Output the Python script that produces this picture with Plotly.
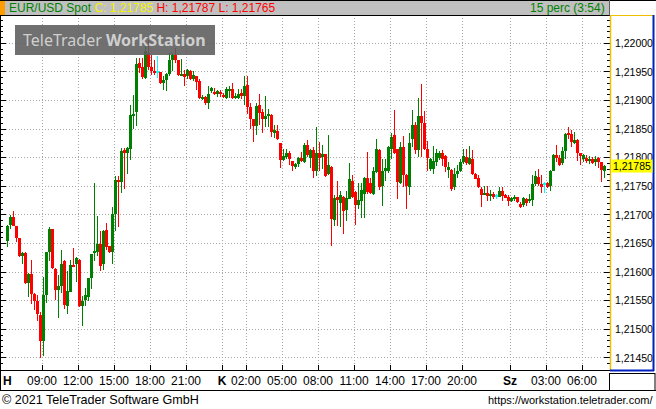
import plotly.graph_objects as go

# ---------------- data (EUR/USD Spot, 15 minute candles, Monday 06:00 onwards) ----------------
opens = [
    1.21654, 1.21682, 1.21696, 1.21680, 1.21659, 1.21628, 1.21634, 1.21581, 1.21596, 1.21562,
    1.21549, 1.21525, 1.21479, 1.21560, 1.21635, 1.21675, 1.21606, 1.21568, 1.21576, 1.21620,
    1.21540, 1.21566, 1.21612, 1.21614, 1.21622, 1.21541, 1.21552, 1.21557, 1.21589, 1.21634,
    1.21636, 1.21649, 1.21614, 1.21673, 1.21645, 1.21635, 1.21701, 1.21761, 1.21758, 1.21813,
    1.21808, 1.21815, 1.21874, 1.21880, 1.21965, 1.21958, 1.21940, 1.21983, 1.21958, 1.21952,
    1.21949, 1.21949, 1.21930, 1.21936, 1.21946, 1.21971, 1.21980, 1.21970, 1.21944, 1.21946,
    1.21942, 1.21952, 1.21937, 1.21942, 1.21934, 1.21903, 1.21906, 1.21896, 1.21916, 1.21915,
    1.21911, 1.21915, 1.21910, 1.21905, 1.21917, 1.21920, 1.21906, 1.21905, 1.21913, 1.21908,
    1.21927, 1.21889, 1.21867, 1.21856, 1.21893, 1.21880, 1.21867, 1.21873, 1.21874, 1.21844,
    1.21847, 1.21825, 1.21796, 1.21802, 1.21808, 1.21794, 1.21784, 1.21789, 1.21800, 1.21793,
    1.21823, 1.21800, 1.21814, 1.21777, 1.21809, 1.21802, 1.21806, 1.21771, 1.21784, 1.21691,
    1.21731, 1.21720, 1.21731, 1.21709, 1.21728, 1.21760, 1.21740, 1.21717, 1.21724, 1.21736,
    1.21765, 1.21756, 1.21737, 1.21775, 1.21814, 1.21750, 1.21776, 1.21777, 1.21815, 1.21839,
    1.21815, 1.21755, 1.21818, 1.21770, 1.21749, 1.21832, 1.21858, 1.21814, 1.21873, 1.21861,
    1.21815, 1.21780, 1.21780, 1.21793, 1.21799, 1.21808, 1.21803, 1.21779, 1.21779, 1.21749,
    1.21772, 1.21777, 1.21793, 1.21802, 1.21789, 1.21798, 1.21772, 1.21765, 1.21746, 1.21735,
    1.21738, 1.21734, 1.21737, 1.21733, 1.21732, 1.21742, 1.21734, 1.21732, 1.21725, 1.21729,
    1.21731, 1.21719, 1.21718, 1.21728, 1.21725, 1.21726, 1.21754, 1.21766, 1.21754, 1.21753,
    1.21756, 1.21751, 1.21777, 1.21805, 1.21800, 1.21791, 1.21811, 1.21843, 1.21842, 1.21826,
    1.21831, 1.21808, 1.21798, 1.21800, 1.21794, 1.21797, 1.21793, 1.21799, 1.21792, 1.21776,
]
highs = [
    1.21682, 1.21700, 1.21706, 1.21681, 1.21660, 1.21635, 1.21636, 1.21598, 1.21622, 1.21563,
    1.21560, 1.21530, 1.21591, 1.21636, 1.21678, 1.21676, 1.21607, 1.21595, 1.21639, 1.21621,
    1.21602, 1.21621, 1.21642, 1.21627, 1.21623, 1.21559, 1.21572, 1.21590, 1.21632, 1.21756,
    1.21698, 1.21672, 1.21673, 1.21686, 1.21646, 1.21713, 1.21768, 1.21768, 1.21817, 1.21817,
    1.21818, 1.21893, 1.21910, 1.21974, 1.21974, 1.21974, 1.22003, 1.22006, 1.21980, 1.21971,
    1.21977, 1.21950, 1.21942, 1.21948, 1.21983, 1.21983, 1.21992, 1.21971, 1.21973, 1.21954,
    1.21955, 1.21954, 1.21951, 1.21943, 1.21937, 1.21910, 1.21908, 1.21925, 1.21924, 1.21921,
    1.21918, 1.21919, 1.21913, 1.21923, 1.21926, 1.21930, 1.21913, 1.21920, 1.21920, 1.21943,
    1.21942, 1.21896, 1.21868, 1.21896, 1.21911, 1.21885, 1.21908, 1.21885, 1.21876, 1.21858,
    1.21857, 1.21826, 1.21815, 1.21815, 1.21812, 1.21795, 1.21791, 1.21802, 1.21810, 1.21825,
    1.21831, 1.21816, 1.21818, 1.21853, 1.21828, 1.21822, 1.21807, 1.21840, 1.21785, 1.21734,
    1.21759, 1.21742, 1.21733, 1.21742, 1.21790, 1.21769, 1.21741, 1.21756, 1.21755, 1.21767,
    1.21810, 1.21765, 1.21783, 1.21832, 1.21815, 1.21798, 1.21798, 1.21821, 1.21844, 1.21883,
    1.21816, 1.21827, 1.21838, 1.21771, 1.21844, 1.21884, 1.21862, 1.21905, 1.21928, 1.21882,
    1.21829, 1.21800, 1.21821, 1.21815, 1.21812, 1.21814, 1.21804, 1.21793, 1.21780, 1.21782,
    1.21787, 1.21798, 1.21815, 1.21815, 1.21821, 1.21813, 1.21773, 1.21769, 1.21749, 1.21751,
    1.21750, 1.21743, 1.21740, 1.21737, 1.21749, 1.21749, 1.21737, 1.21734, 1.21732, 1.21734,
    1.21732, 1.21722, 1.21732, 1.21730, 1.21736, 1.21769, 1.21777, 1.21780, 1.21770, 1.21757,
    1.21758, 1.21779, 1.21807, 1.21823, 1.21804, 1.21818, 1.21843, 1.21854, 1.21848, 1.21845,
    1.21832, 1.21809, 1.21807, 1.21804, 1.21803, 1.21801, 1.21803, 1.21801, 1.21793, 1.21787,
]
lows = [
    1.21644, 1.21676, 1.21680, 1.21653, 1.21627, 1.21615, 1.21580, 1.21557, 1.21545, 1.21534,
    1.21515, 1.21450, 1.21454, 1.21546, 1.21620, 1.21605, 1.21552, 1.21520, 1.21564, 1.21536,
    1.21527, 1.21566, 1.21609, 1.21583, 1.21539, 1.21505, 1.21540, 1.21549, 1.21570, 1.21620,
    1.21629, 1.21602, 1.21604, 1.21638, 1.21634, 1.21615, 1.21672, 1.21679, 1.21739, 1.21745,
    1.21771, 1.21796, 1.21851, 1.21856, 1.21948, 1.21938, 1.21938, 1.21954, 1.21944, 1.21944,
    1.21940, 1.21929, 1.21918, 1.21916, 1.21942, 1.21951, 1.21966, 1.21942, 1.21943, 1.21925,
    1.21937, 1.21936, 1.21934, 1.21918, 1.21902, 1.21901, 1.21893, 1.21886, 1.21913, 1.21909,
    1.21907, 1.21907, 1.21905, 1.21903, 1.21905, 1.21902, 1.21903, 1.21903, 1.21903, 1.21892,
    1.21876, 1.21851, 1.21828, 1.21840, 1.21857, 1.21843, 1.21854, 1.21853, 1.21836, 1.21835,
    1.21831, 1.21782, 1.21794, 1.21798, 1.21787, 1.21776, 1.21780, 1.21784, 1.21793, 1.21791,
    1.21802, 1.21782, 1.21765, 1.21768, 1.21777, 1.21780, 1.21767, 1.21769, 1.21645, 1.21681,
    1.21681, 1.21678, 1.21667, 1.21689, 1.21727, 1.21730, 1.21682, 1.21710, 1.21694, 1.21694,
    1.21736, 1.21737, 1.21734, 1.21773, 1.21744, 1.21715, 1.21760, 1.21773, 1.21798, 1.21806,
    1.21727, 1.21754, 1.21749, 1.21710, 1.21734, 1.21818, 1.21806, 1.21801, 1.21801, 1.21814,
    1.21777, 1.21777, 1.21772, 1.21786, 1.21796, 1.21785, 1.21775, 1.21764, 1.21741, 1.21743,
    1.21764, 1.21775, 1.21789, 1.21788, 1.21787, 1.21769, 1.21762, 1.21747, 1.21714, 1.21734,
    1.21725, 1.21724, 1.21728, 1.21727, 1.21731, 1.21724, 1.21729, 1.21716, 1.21722, 1.21725,
    1.21721, 1.21712, 1.21714, 1.21715, 1.21720, 1.21715, 1.21751, 1.21751, 1.21739, 1.21739,
    1.21747, 1.21742, 1.21776, 1.21792, 1.21786, 1.21787, 1.21798, 1.21833, 1.21818, 1.21824,
    1.21795, 1.21787, 1.21792, 1.21790, 1.21789, 1.21789, 1.21786, 1.21782, 1.21758, 1.21765,
]
closes = [
    1.21680, 1.21696, 1.21680, 1.21659, 1.21628, 1.21633, 1.21581, 1.21597, 1.21562, 1.21550,
    1.21527, 1.21480, 1.21560, 1.21635, 1.21676, 1.21607, 1.21568, 1.21576, 1.21614, 1.21542,
    1.21567, 1.21612, 1.21610, 1.21624, 1.21540, 1.21549, 1.21560, 1.21589, 1.21631, 1.21635,
    1.21649, 1.21611, 1.21672, 1.21644, 1.21635, 1.21701, 1.21761, 1.21757, 1.21811, 1.21808,
    1.21817, 1.21874, 1.21876, 1.21963, 1.21957, 1.21941, 1.21987, 1.21958, 1.21951, 1.21948,
    1.21949, 1.21930, 1.21936, 1.21946, 1.21971, 1.21980, 1.21970, 1.21944, 1.21946, 1.21941,
    1.21954, 1.21937, 1.21944, 1.21932, 1.21904, 1.21906, 1.21895, 1.21912, 1.21921, 1.21911,
    1.21916, 1.21911, 1.21906, 1.21920, 1.21919, 1.21904, 1.21908, 1.21911, 1.21908, 1.21926,
    1.21889, 1.21867, 1.21856, 1.21891, 1.21878, 1.21867, 1.21873, 1.21875, 1.21845, 1.21849,
    1.21832, 1.21796, 1.21803, 1.21809, 1.21797, 1.21786, 1.21789, 1.21799, 1.21794, 1.21823,
    1.21804, 1.21814, 1.21776, 1.21809, 1.21800, 1.21806, 1.21768, 1.21787, 1.21692, 1.21730,
    1.21726, 1.21734, 1.21707, 1.21730, 1.21762, 1.21731, 1.21717, 1.21726, 1.21744, 1.21765,
    1.21740, 1.21738, 1.21777, 1.21815, 1.21749, 1.21777, 1.21782, 1.21818, 1.21837, 1.21808,
    1.21758, 1.21818, 1.21770, 1.21750, 1.21825, 1.21858, 1.21814, 1.21873, 1.21861, 1.21815,
    1.21799, 1.21798, 1.21795, 1.21808, 1.21808, 1.21798, 1.21783, 1.21783, 1.21745, 1.21772,
    1.21777, 1.21793, 1.21803, 1.21790, 1.21799, 1.21771, 1.21763, 1.21749, 1.21735, 1.21739,
    1.21733, 1.21737, 1.21732, 1.21733, 1.21742, 1.21733, 1.21731, 1.21725, 1.21730, 1.21731,
    1.21722, 1.21714, 1.21729, 1.21721, 1.21728, 1.21754, 1.21768, 1.21754, 1.21749, 1.21753,
    1.21749, 1.21777, 1.21804, 1.21800, 1.21788, 1.21811, 1.21842, 1.21841, 1.21827, 1.21831,
    1.21808, 1.21803, 1.21805, 1.21795, 1.21798, 1.21791, 1.21797, 1.21792, 1.21779, 1.21785,
]

# time axis: hours since Monday 00:00
start_hour = 6.0
step_hours = 0.25
x_tick_vals = [9, 12, 15, 18, 21, 24, 26, 29, 32, 35, 38, 41, 44, 48, 51, 54]
x_tick_text = ["09:00", "12:00", "15:00", "18:00", "21:00", "<b>K</b>", "02:00", "05:00",
               "08:00", "11:00", "14:00", "17:00", "20:00", "<b>Sz</b>", "03:00", "06:00"]
y_tick_vals = [1.21450, 1.21500, 1.21550, 1.21600, 1.21650, 1.21700, 1.21750,
               1.21800, 1.21850, 1.21900, 1.21950, 1.22000]
y_tick_text = ["1,21450", "1,21500", "1,21550", "1,21600", "1,21650", "1,21700", "1,21750",
               "1,21800", "1,21850", "1,21900", "1,21950", "1,22000"]
last_price_text = "1,21785"
header_name = "EUR/USD Spot"
header_c = "C: 1,21785"
header_hl = "H: 1,21787 L: 1,21765"
header_right = "15 perc (3:54)"

# ---------------- geometry ----------------
W, H = 656, 409
ML, MR, MT, MB = 0, 46, 15, 39
PW, PH = W - ML - MR, H - MT - MB


def pxx(x):
    return (x - ML) / PW


def pxy(y):
    return (H - MB - y) / PH


GREEN, RED, CYAN = "#008000", "#ff0000", "#00ffff"
n = len(closes)
hours = [start_hour + step_hours * (i + 0.5) for i in range(n)]
colors = [GREEN if c > o else (RED if c < o else CYAN) for o, c in zip(opens, closes)]
min_body = 0.0000175
body_base = [min(o, c) for o, c in zip(opens, closes)]
body_len = [max(abs(c - o), min_body) for o, c in zip(opens, closes)]
wick_len = [h - l for h, l in zip(highs, lows)]

fig = go.Figure()
fig.add_trace(go.Bar(x=hours, y=wick_len, base=lows, width=1 / 12,
                     marker=dict(color=colors, line=dict(width=0)), hoverinfo="skip"))
fig.add_trace(go.Bar(x=hours, y=body_len, base=body_base, width=0.22,
                     marker=dict(color=colors, line=dict(width=0)), hoverinfo="skip"))

FONT = "Liberation Sans, Arial, sans-serif"
GRID = "#a8a8a8"

shapes = []


def line(x0, y0, x1, y1, color, w=1):
    shapes.append(dict(type="line", xref="paper", yref="paper", x0=pxx(x0), y0=pxy(y0),
                       x1=pxx(x1), y1=pxy(y1), line=dict(color=color, width=w), layer="above"))


def rect(x0, y0, x1, y1, color, opacity=1.0):
    shapes.append(dict(type="rect", xref="paper", yref="paper", x0=pxx(x0), y0=pxy(y0),
                       x1=pxx(x1), y1=pxy(y1), fillcolor=color, opacity=opacity,
                       line=dict(width=0), layer="above"))


# header bar
rect(0, 0, 609, 15, "#c0c0c0")
rect(0, 0, 5, 15, "#ff9c00")
line(0, 0.5, 656, 0.5, "#000000")
line(609.5, 0, 609.5, 15, "#606060")
line(0, 15.5, 610, 15.5, "#000000")
# plot frame
line(0.5, 15, 0.5, 391, "#000000")
line(0, 370.5, 610, 370.5, "#000000")
# price axis panel
line(610.5, 15, 610.5, 370, "#f0c000", 1.5)
line(610, 15.5, 654, 15.5, "#f0c000")
line(653.5, 15, 653.5, 371, "#0020c0", 2)
line(610, 370.5, 654, 370.5, "#0020c0", 2)
# time label band
line(0, 390.5, 656, 390.5, "#000000")
line(609.5, 373, 609.5, 391, "#000000")
line(655, 373, 655, 391, "#000000")
line(609.5, 373.5, 655, 373.5, "#000000")
# watermark
rect(15, 25, 215, 55, "#5c5c5c", 0.88)

annotations = [
    dict(xref="paper", yref="paper", x=pxx(7), y=pxy(8), xanchor="left", yanchor="middle",
         showarrow=False, font=dict(family=FONT, size=12),
         text=f"<span style='color:{GREEN}'>{header_name}</span> "
              f"<span style='color:#f4f400'>{header_c}</span> "
              f"<span style='color:#ff0000'>{header_hl}</span>"),
    dict(xref="paper", yref="paper", x=pxx(607), y=pxy(8), xanchor="right", yanchor="middle",
         showarrow=False, font=dict(family=FONT, size=12, color=GREEN), text=header_right),
    dict(xref="paper", yref="paper", x=pxx(115), y=pxy(40), xanchor="center", yanchor="middle",
         showarrow=False, font=dict(family="Noto Sans, sans-serif", size=16, color="#cfcfcf"),
         text="TeleTrader <b>WorkStation</b>"),
    dict(xref="paper", yref="paper", x=pxx(1), y=pxy(381), xanchor="left", yanchor="middle",
         showarrow=False, font=dict(family=FONT, size=12, color="#000000"), text="<b>H</b>"),
    dict(xref="paper", yref="y", x=pxx(611), y=closes[-1], xanchor="left", yanchor="middle",
         showarrow=False, bgcolor="#ffff00", width=40, height=12, borderpad=0,
         font=dict(family=FONT, size=10.5, color="#000000"), text=last_price_text),
    dict(xref="paper", yref="paper", x=pxx(0), y=pxy(400), xanchor="left", yanchor="middle",
         showarrow=False, font=dict(family=FONT, size=12.6, color="#000000"),
         text="© 2021 TeleTrader Software GmbH"),
    dict(xref="paper", yref="paper", x=pxx(655), y=pxy(400), xanchor="right", yanchor="middle",
         showarrow=False, font=dict(family=FONT, size=11, color="#000000"),
         text="https://workstation.teletrader.com/"),
]

fig.update_layout(
    width=W, height=H,
    margin=dict(l=ML, r=MR, t=MT, b=MB, pad=0),
    paper_bgcolor="#ffffff", plot_bgcolor="#ffffff",
    barmode="overlay", bargap=0, showlegend=False,
    shapes=shapes, annotations=annotations,
    xaxis=dict(range=[5.5, 5.5 + PW / 12], tickmode="array", tickvals=x_tick_vals,
               ticktext=x_tick_text, ticks="inside", ticklen=5, tickcolor="#000000",
               showgrid=True, gridcolor=GRID, griddash="1px,2px", gridwidth=1,
               zeroline=False, showline=False, fixedrange=True,
               tickfont=dict(family=FONT, size=12, color="#000000"), ticklabelstandoff=2),
    yaxis=dict(range=[1.214288, 1.220495], side="right", tickmode="array",
               tickvals=y_tick_vals, ticktext=y_tick_text, ticks="inside", ticklen=6,
               tickcolor="#000000", mirror="ticks", showline=False,
               minor=dict(tickmode="linear", tick0=1.2140, dtick=0.0001, ticks="inside",
                          ticklen=3, tickcolor="#000000", showgrid=False),
               showgrid=True, gridcolor=GRID, griddash="1px,2px", gridwidth=1,
               zeroline=False, fixedrange=True, ticklabelstandoff=4,
               tickfont=dict(family=FONT, size=10.5, color="#000000")),
)

fig.write_html("out.html", config={"displayModeBar": False},
               post_script="document.body.style.margin='0';document.body.style.overflow='hidden';")
